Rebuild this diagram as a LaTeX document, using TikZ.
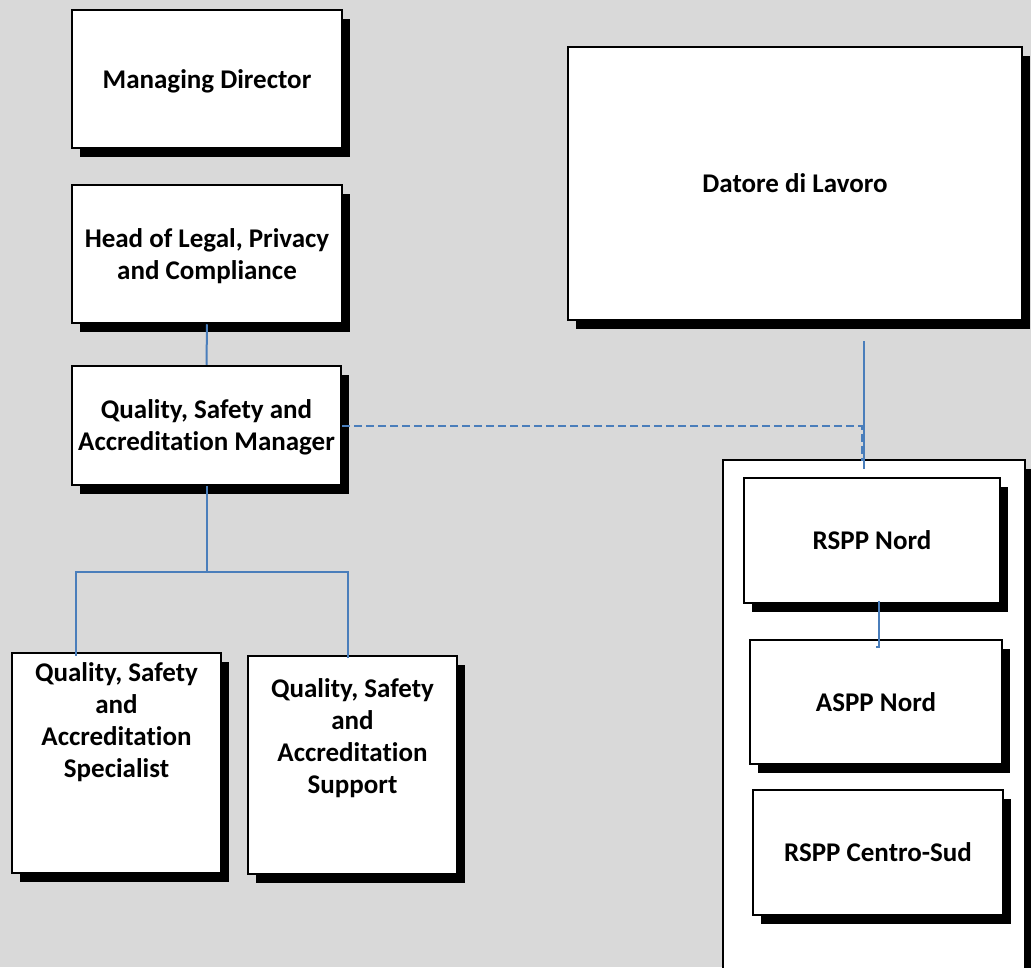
\documentclass[tikz,border=0pt]{standalone}
\usepackage{fontspec}
\setmainfont{Carlito}[Ligatures=NoCommon]
\usetikzlibrary{shadows}
\definecolor{pagegrey}{HTML}{D9D9D9}
\definecolor{linkblue}{HTML}{4A7EBB}
\tikzstyle{orgbox} = [draw=black, fill=white, line width=2.5pt, rectangle, inner sep=0pt,
    drop shadow={shadow xshift=8pt, shadow yshift=-9pt, fill=black, opacity=1},
    font=\fontsize{27}{32}\selectfont\bfseries, align=center, text depth=0pt]
\tikzstyle{boxtext} = [font=\fontsize{27}{32}\selectfont\bfseries, align=center]
\tikzstyle{linkline} = [draw=linkblue, line width=2pt]

\begin{document}
\begin{tikzpicture}[x=1pt, y=-1pt]
    \fill[pagegrey] (0,0) rectangle (1031,967);
    \useasboundingbox (0,0) rectangle (1031,967);

    % left column
    \node [orgbox, minimum width=270pt, minimum height=138pt] (director) at (207,79) {Managing Director};
    \node [orgbox, minimum width=270pt, minimum height=138pt] (legal) at (207,254) {Head of Legal, Privacy\\and Compliance};
    \node [orgbox, minimum width=269pt, minimum height=119pt] (qsam) at (206.5,425.5) {Quality, Safety and\\Accreditation Manager};
    \node [orgbox, minimum width=209pt, minimum height=220pt] (spec) at (116.5,763) {};
    \node [boxtext] (spectext) at ([yshift=41pt]spec.center) {Quality, Safety\\and\\Accreditation\\Specialist};
    \node [orgbox, minimum width=209pt, minimum height=218pt] (supp) at (352.5,765) {};
    \node [boxtext] (supptext) at ([yshift=27pt]supp.center) {Quality, Safety\\and\\Accreditation\\Support};

    % right column
    \node [orgbox, minimum width=454pt, minimum height=273pt] (datore) at (795,183.5) {Datore di Lavoro};
    \node [orgbox, line width=2pt, minimum width=302pt, minimum height=515pt] (container) at (874,717.5) {};
    \node [orgbox, minimum width=256pt, minimum height=125pt] (rsppn) at (872,540.5) {RSPP Nord};
    \node [orgbox, minimum width=252pt, minimum height=124pt] (asppn) at (876,702) {ASPP Nord};
    \node [orgbox, minimum width=250pt, minimum height=125pt] (rsppcs) at (878,852.5) {RSPP Centro-Sud};

    % connectors
    \coordinate (bus) at (206.5,572);
    \draw [linkline] (legal.south) -- (qsam.north);
    \draw [linkline] (qsam.south) -- (bus);
    \draw [linkline] ([xshift=-40.5pt,yshift=-4pt]spec.north) |- (bus) -| ([xshift=-4.5pt,yshift=-3pt]supp.north);

    \coordinate (dtop) at ([xshift=69pt,yshift=-20pt]datore.south);
    \coordinate (dbot) at ([xshift=-10pt,yshift=-10pt]container.north);
    \draw [linkline] (dtop) -- (dbot);
    \draw [linkline, dash pattern=on 8pt off 4pt] (qsam.east) -| ([xshift=-12pt,yshift=-2pt]container.north);

    \draw [linkline] ([xshift=7pt,yshift=3pt]rsppn.south) -- ([xshift=3pt,yshift=-8pt]asppn.north) -- ++(-3,0);
\end{tikzpicture}
\end{document}
